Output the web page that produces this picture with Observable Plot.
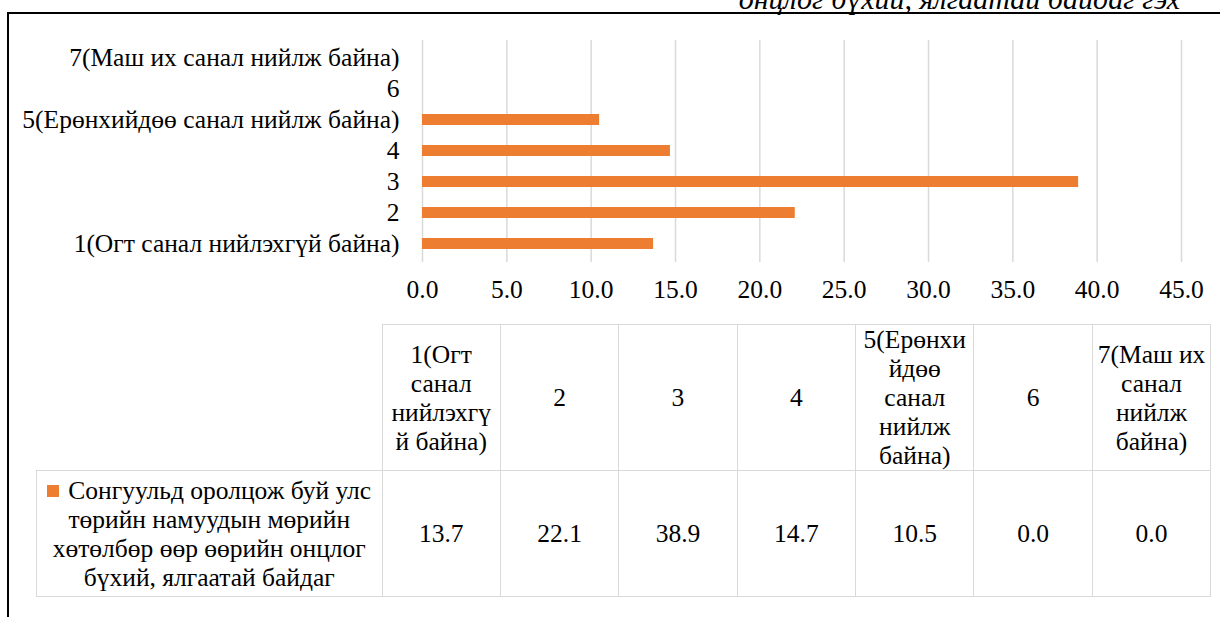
<!DOCTYPE html>
<html><head><meta charset="utf-8">
<script src="https://cdn.jsdelivr.net/npm/d3@7"></script>
<script src="https://cdn.jsdelivr.net/npm/@observablehq/plot@0.6"></script>
<style>
body{margin:0;background:#fff;}
#wrap{position:relative;width:1220px;height:617px;overflow:hidden;font-family:"Liberation Serif",Tinos,"Times New Roman",Times,"DejaVu Serif",serif;color:#000;background:#fff;}
#frame{position:absolute;left:7px;top:12px;width:1300px;height:700px;border-top:2px solid #000;border-left:2px solid #000;z-index:5;pointer-events:none;}
#title{position:absolute;right:40px;top:-16px;font-style:italic;font-size:30px;line-height:30px;white-space:nowrap;z-index:6;}
#chart{position:absolute;left:0;top:0;}
#tbl{position:absolute;left:36px;top:324px;border-collapse:collapse;font-size:25.5px;line-height:29px;}
#tbl td{border:1.5px solid #d9d9d9;text-align:center;vertical-align:middle;padding:0;}
#tbl td.blank{border:none;border-bottom:1.5px solid #d9d9d9;}
.sw{display:inline-block;width:12px;height:12px;background:#ED7D31;margin-right:9px;vertical-align:2px;}
</style></head>
<body>
<div id="wrap">
  <div id="title"></div>
  <div id="frame"></div>
  <div id="chart"></div>
  <table id="tbl"></table>
</div>
<script>
const titleText = "онцлог бүхий, ялгаатай байдаг гэх";
const categories = ["1(Огт санал нийлэхгүй байна)", "2", "3", "4", "5(Ерөнхийдөө санал нийлж байна)", "6", "7(Маш их санал нийлж байна)"];
const values = [13.7, 22.1, 38.9, 14.7, 10.5, 0.0, 0.0];
const seriesName = "Сонгуульд оролцож буй улс төрийн намуудын мөрийн хөтөлбөр өөр өөрийн онцлог бүхий, ялгаатай байдаг";
const xTicks = [0, 5, 10, 15, 20, 25, 30, 35, 40, 45];
const headerLines = [["1(Огт", "санал", "нийлэхгү", "й байна)"], ["2"], ["3"], ["4"], ["5(Ерөнхи", "йдөө", "санал", "нийлж", "байна)"], ["6"], ["7(Маш их", "санал", "нийлж", "байна)"]];
const legendLines = ["Сонгуульд оролцож буй улс", "төрийн намуудын мөрийн", "хөтөлбөр өөр өөрийн онцлог", "бүхий, ялгаатай байдаг"];

const barColor = "#ED7D31";
const fontStack = '"Liberation Serif",Tinos,"Times New Roman",Times,"DejaVu Serif",serif';
const data = categories.map((c, i) => ({category: c, value: values[i]}));

document.getElementById("title").textContent = titleText;

const chart = Plot.plot({
  width: 1220,
  height: 310,
  marginLeft: 422,
  marginRight: 39,
  marginTop: 40,
  marginBottom: 48,
  style: {fontFamily: fontStack, fontSize: "25.5px", color: "#000", background: "transparent", overflow: "visible"},
  x: {domain: [0, 45], ticks: xTicks, tickFormat: d3.format(".1f"), tickSize: 0, tickPadding: 17, label: null},
  y: {domain: categories.slice().reverse(), paddingInner: 0.64, paddingOuter: 0.32, tickSize: 0, tickPadding: 23, label: null},
  marks: [
    Plot.gridX(xTicks, {stroke: "#d9d9d9", strokeOpacity: 1, strokeWidth: 1.5}),
    Plot.barX(data, {x: "value", y: "category", fill: barColor})
  ]
});
document.getElementById("chart").appendChild(chart);

// data table
const tbl = document.getElementById("tbl");
const colW = 117.4;
const r1 = document.createElement("tr");
r1.style.height = "146px";
const blank = document.createElement("td");
blank.className = "blank";
blank.style.width = "345px";
r1.appendChild(blank);
headerLines.forEach(lines => {
  const td = document.createElement("td");
  td.style.width = colW + "px";
  td.innerHTML = lines.join("<br>");
  r1.appendChild(td);
});
tbl.appendChild(r1);
const r2 = document.createElement("tr");
r2.style.height = "126px";
const lg = document.createElement("td");
lg.innerHTML = '<span class="sw"></span>' + legendLines.join("<br>");
lg.title = seriesName;
r2.appendChild(lg);
values.forEach(v => {
  const td = document.createElement("td");
  td.textContent = d3.format(".1f")(v);
  r2.appendChild(td);
});
tbl.appendChild(r2);
</script>
</body></html>
